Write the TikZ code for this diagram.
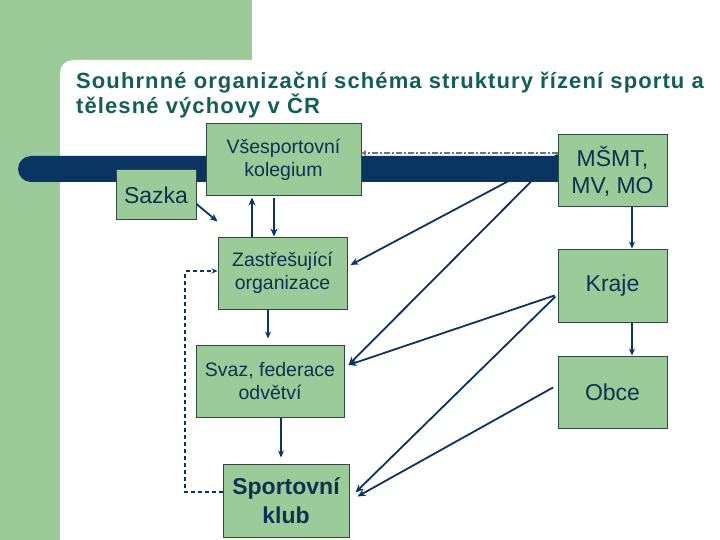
\documentclass[tikz,border=0pt]{standalone}
\usepackage{fontspec}
\setmainfont{Liberation Sans}
\newfontfamily\titlefont[LetterSpace=5]{Liberation Sans}
\usetikzlibrary{arrows.meta,calc}
\definecolor{bggreen}{HTML}{9BCB98}
\definecolor{navy}{HTML}{0A3462}
\definecolor{txtnavy}{HTML}{0D3152}
\definecolor{titleteal}{HTML}{145E5A}
\definecolor{boxline}{HTML}{2C4A40}
\definecolor{dashgray}{HTML}{6E6E8E}
\pgfdeclarelayer{back}
\pgfdeclarelayer{mid}
\pgfsetlayers{back,mid,main}
\begin{document}
\begin{tikzpicture}[x=1pt,y=-1pt,
  box/.style={draw=boxline, line width=1pt, fill=bggreen, text=txtnavy, align=center, inner sep=0pt},
  midtxt/.style={font=\fontsize{19.5}{23}\selectfont},
  bigtxt/.style={font=\fontsize{23}{27}\selectfont},
  arr/.style={draw=navy, line width=1.8pt, -{Stealth[length=8pt,width=7pt]}},
  thinarr/.style={draw=navy, line width=1.4pt, -{Stealth[length=7pt,width=6pt]}},
  dasharr/.style={draw=navy, line width=1.1pt, dash pattern=on 4pt off 3pt, -{Stealth[length=6pt,width=5pt]}},
  dotarr/.style={draw=dashgray, line width=1.6pt, dash pattern=on 6pt off 2pt on 2pt off 2pt, -{Stealth[length=5pt,width=6pt]}}]
\useasboundingbox (0,0) rectangle (720,540);

% boxes
\node[box, midtxt, minimum width=155pt, minimum height=72pt] (vk) at (283.5,160) {Všesportovní\\kolegium};
\node[box, bigtxt, minimum width=80pt, minimum height=50pt] (sazka) at (156,195) {Sazka};
\node[box, bigtxt, minimum width=109pt, minimum height=72pt] (msmt) at (612.5,171) {MŠMT,\\MV, MO};
\node[box, midtxt, minimum width=129pt, minimum height=72pt] (zast) at (282.5,273) {Zastřešující\\organizace};
\node[box, bigtxt, minimum width=109pt, minimum height=73pt] (kraje) at (612.5,285.5) {Kraje};
\node[box, midtxt, minimum width=148pt, minimum height=72pt] (svaz) at (270,381) {Svaz, federace\\odvětví};
\node[box, bigtxt, minimum width=109pt, minimum height=72pt] (obce) at (612.5,392) {Obce};
\node[box, font=\fontsize{23}{29}\selectfont\bfseries, minimum width=126pt, minimum height=73pt] (klub) at (286,500.5) {Sportovní\\klub};

% title
\node[anchor=north west, inner sep=0pt, align=left, text=titleteal,
      font=\titlefont\fontsize{22}{25}\selectfont\bfseries] (title) at (76,72)
  {Souhrnné organizační schéma struktury řízení sportu a\\tělesné výchovy v ČR};

\begin{pgfonlayer}{back}
  \fill[white] (0,0) rectangle (720,540);
  \fill[bggreen] (0,0) rectangle (252,75);
  \fill[bggreen] (0,0) rectangle (60,540);
  \fill[white, rounded corners=13pt] (60,60) rectangle (740,560);
  % lines from MSMT hidden under the bar
  \draw[arr] ([yshift=16pt]msmt.west) -- ([xshift=3pt,yshift=8pt]zast.east);
  \draw[arr] ([yshift=16pt]msmt.west) -- ([xshift=4pt,yshift=16pt]svaz.east);
\end{pgfonlayer}
\begin{pgfonlayer}{mid}
  \fill[navy, rounded corners=13pt] (18,156) rectangle (575,182);
\end{pgfonlayer}

% arrows
\draw[dotarr] ([yshift=18pt]msmt.west) -- ([yshift=7pt]vk.east);
\draw[arr] ([yshift=-9pt]sazka.east) -- ([yshift=15pt]zast.north west);
\draw[arr] ([xshift=-30.5pt]zast.north) -- ([xshift=-30.5pt,yshift=-1pt]zast.north |- vk.south);
\draw[arr] ([xshift=-9.5pt,yshift=-2pt]vk.south) -- ([xshift=-9.5pt]vk.south |- zast.north);
\draw[arr, shorten <=3pt] ([yshift=-9pt]kraje.west) -- ([xshift=4pt,yshift=16pt]svaz.east);
\draw[arr, shorten <=3pt] ([yshift=-9pt]kraje.west) -- ([xshift=6pt,yshift=8pt]klub.east);
\draw[arr, shorten <=5pt] ([yshift=7pt]obce.west) -- ([xshift=8pt,yshift=4pt]klub.east);
\draw[thinarr] ([xshift=19.5pt]msmt.south) -- ([xshift=19.5pt]kraje.north);
\draw[thinarr] ([xshift=19.5pt]kraje.south) -- ([xshift=19.5pt]obce.north);
\draw[thinarr] ([xshift=-14.5pt]zast.south) -- ([xshift=-14.5pt,yshift=6pt]zast.south |- svaz.north);
\draw[thinarr] ([xshift=-5pt]klub.north |- svaz.south) -- ([xshift=-5pt,yshift=6pt]klub.north);
\coordinate (dl) at (185,492);
\coordinate (ul) at (185,271);
\draw[dasharr] ([yshift=8.5pt]klub.west) -- (dl) -- (ul) -- ([yshift=2pt]zast.west);
\end{tikzpicture}
\end{document}
